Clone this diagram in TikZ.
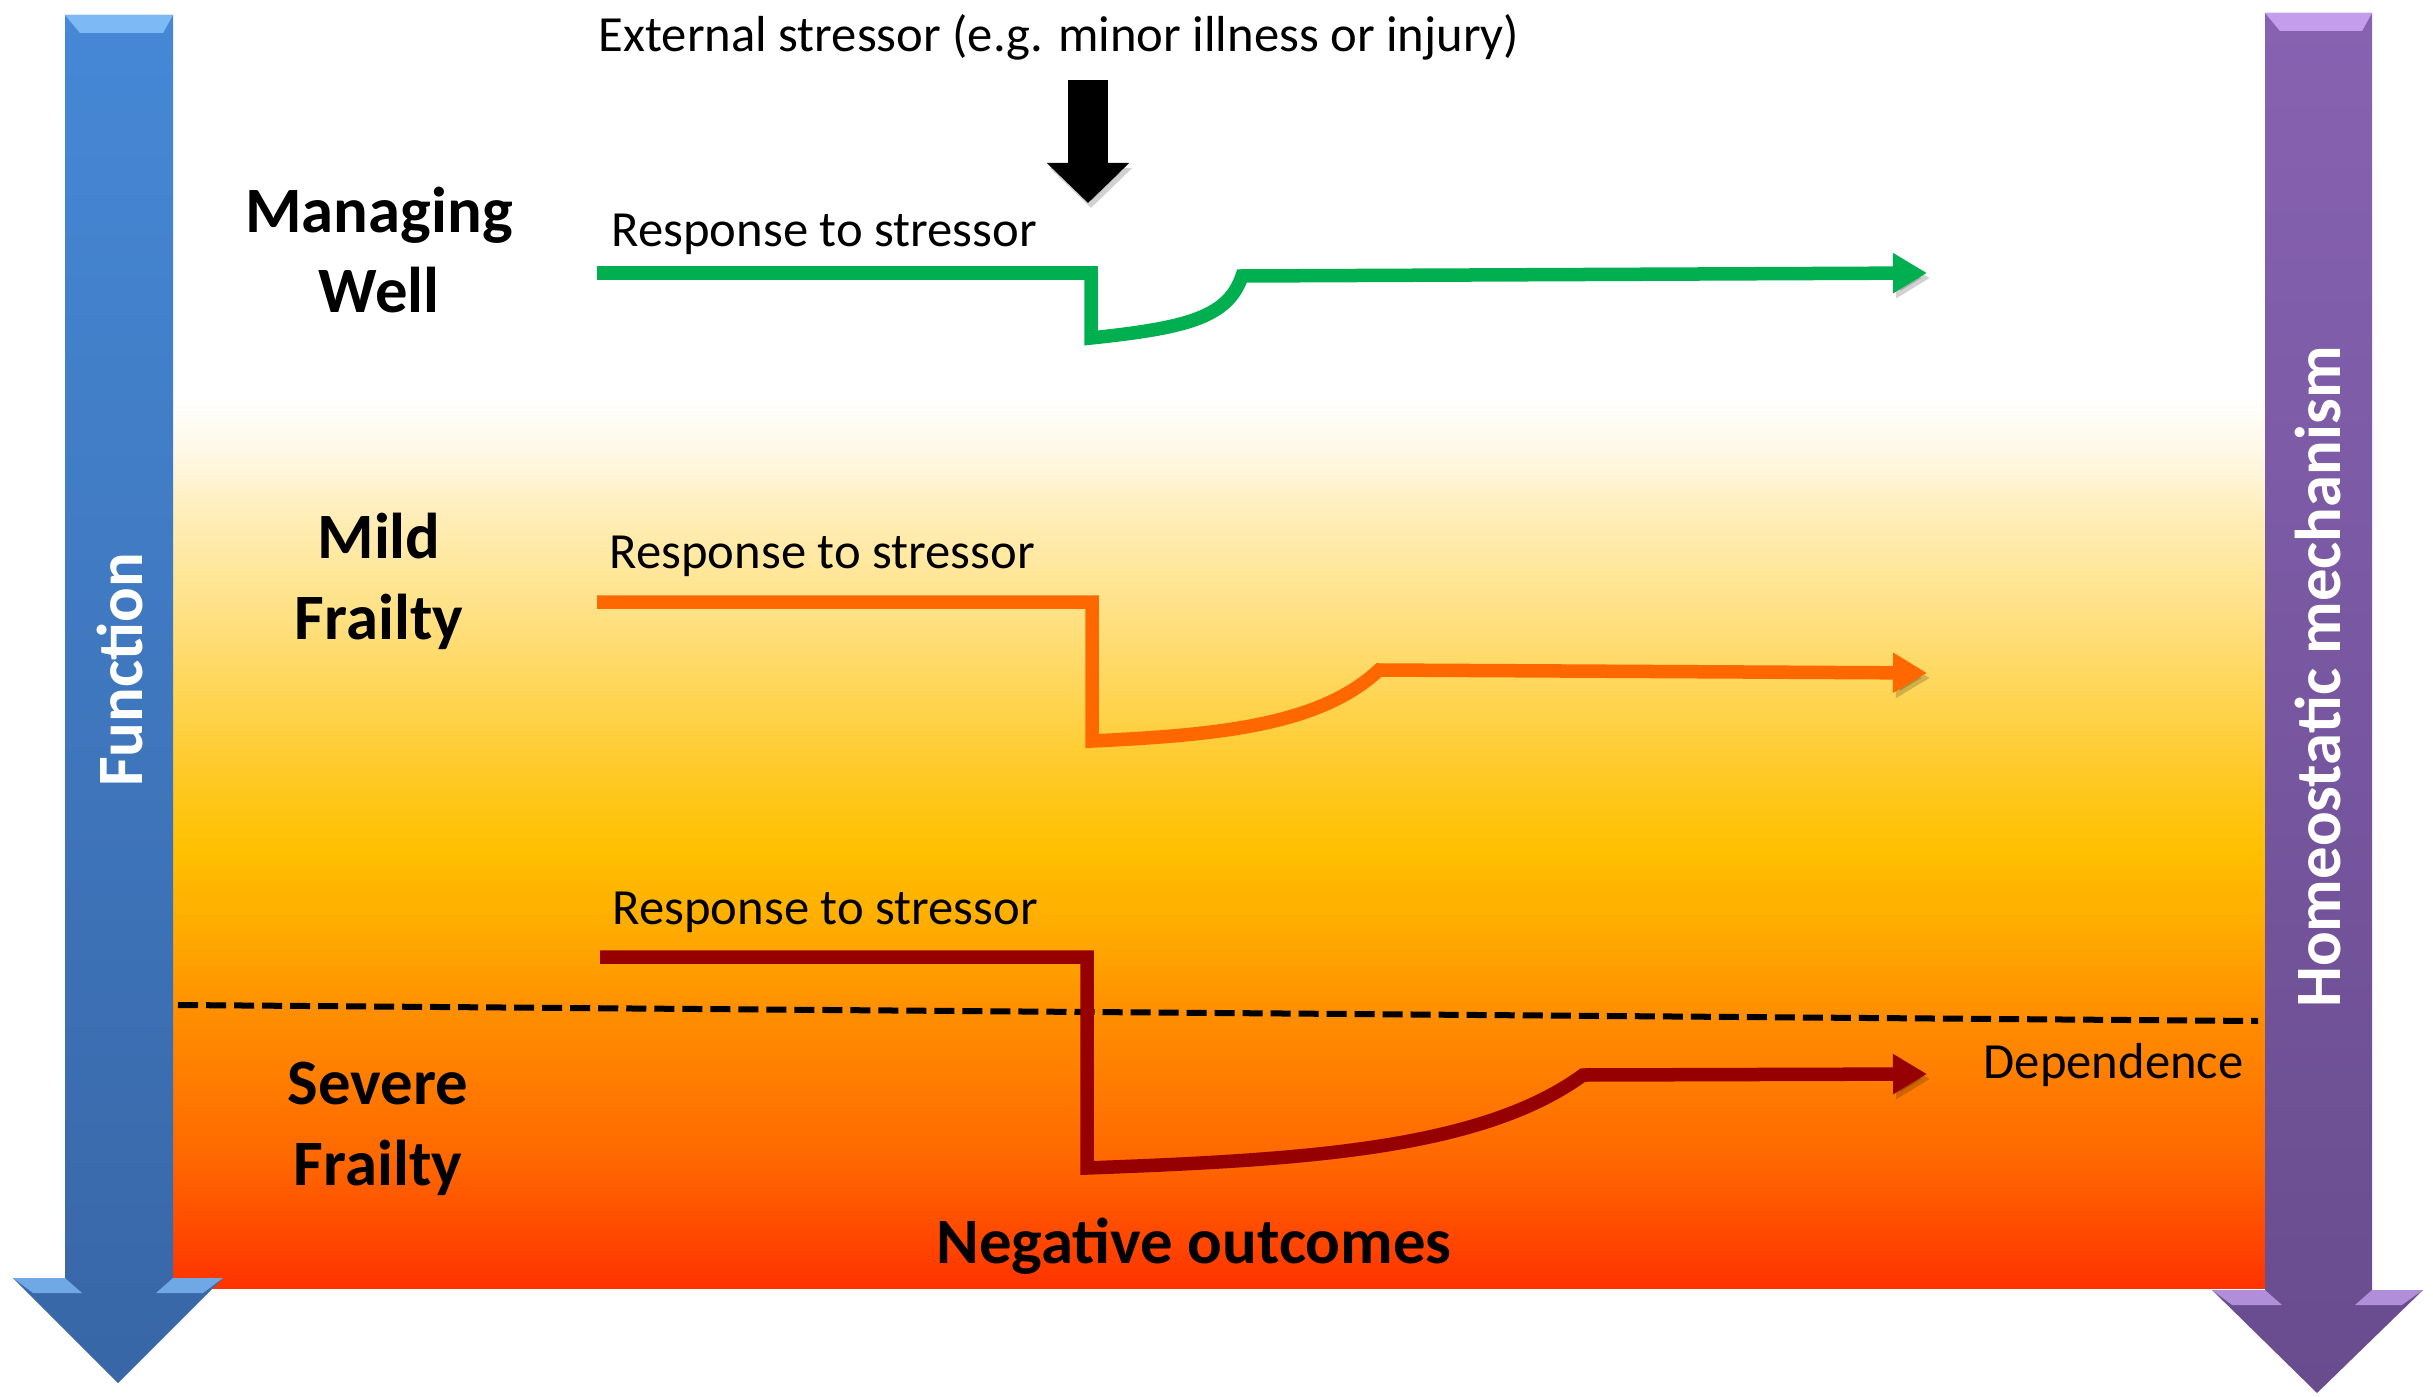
\documentclass[tikz,border=0pt]{standalone}
\usepackage{fontspec}
\setmainfont{Carlito}
\usepackage{tikz}
\usetikzlibrary{arrows.meta}
\definecolor{funcblue}{RGB}{70,136,214}
\definecolor{funcbluedk}{RGB}{56,102,166}
\definecolor{funcbluelt}{RGB}{125,185,245}
\definecolor{homeopurple}{RGB}{135,98,178}
\definecolor{homeopurpledk}{RGB}{104,76,142}
\definecolor{homeopurplelt}{RGB}{196,158,236}
\definecolor{wellgreen}{RGB}{0,176,80}
\definecolor{mildorange}{RGB}{255,104,0}
\definecolor{severered}{RGB}{150,0,0}
\definecolor{bgred}{RGB}{255,51,0}
\definecolor{bgdeep}{RGB}{255,102,0}
\definecolor{bgorange}{RGB}{255,144,0}
\definecolor{bgamber}{RGB}{255,170,0}
\definecolor{bgyellow}{RGB}{255,192,0}
\definecolor{bgsun}{RGB}{255,201,37}
\definecolor{bgpale}{RGB}{255,224,128}
\definecolor{bgcream}{RGB}{255,237,181}
\definecolor{bgivory}{RGB}{255,246,222}
\pgfdeclareverticalshading{frailtyshade}{100bp}{color(0bp)=(bgred); color(25bp)=(bgred);
  color(32bp)=(bgdeep); color(40.75bp)=(bgorange); color(45bp)=(bgamber);
  color(49.65bp)=(bgyellow); color(53.85bp)=(bgsun); color(62.6bp)=(bgpale);
  color(68.25bp)=(bgcream); color(71.35bp)=(bgivory); color(75bp)=(white); color(100bp)=(white)}
\tikzset{
  stagelabel/.style={font=\fontsize{18.4}{22.8}\selectfont\bfseries,align=center,anchor=base,inner sep=0pt},
  resplabel/.style={font=\fontsize{14.4}{17}\selectfont,anchor=base west,inner sep=0pt},
  barlabel/.style={font=\fontsize{18.4}{22}\selectfont\bfseries,text=white,rotate=90,inner sep=0pt},
  softshadow/.style={preaction={draw=black,opacity=0.18,transform canvas={shift={(3,5)}}}},
  respline/.style={line width=0.135cm,-{Triangle[length=0.34cm,width=0.38cm]},softshadow},
  threshline/.style={dash pattern=on 0.2cm off 0.08cm,line width=0.06cm},
  stressarr/.style={line width=0.4cm,-{Triangle[length=0.4cm,width=0.8cm]},softshadow}
}

\begin{document}
\begin{tikzpicture}[x=0.01cm,y=-0.01cm]
  \useasboundingbox (0,0) rectangle (2433,1397);

  %% Background gradient
  \shade[shading=frailtyshade] (171,400) rectangle (2265,1288);

  %% Dependence threshold
  \coordinate (threshL) at (178,1005);
  \coordinate (threshR) at (2258,1021);
  \draw[threshline] (threshL) -- (threshR);

  %% Function bar
  \shade[top color=funcblue,bottom color=funcbluedk]
    (65,15) -- (173,15) -- (173,1278) -- (223,1278) -- (118,1383)
    -- (13,1278) -- (65,1278) -- cycle;
  \fill[funcbluelt] (65,15) -- (173,15) -- (163,33) -- (80,33) -- cycle;
  \fill[funcbluelt!80!funcbluedk] (13,1278) -- (65,1278) -- (82,1293) -- (33,1293) -- cycle;
  \fill[funcbluelt!80!funcbluedk] (173,1278) -- (223,1278) -- (203,1293) -- (156,1293) -- cycle;
  \node[barlabel] (func) at (120,670) {Function};

  %% Homeostatic mechanism bar
  \shade[top color=homeopurple,bottom color=homeopurpledk]
    (2265,13) -- (2372,13) -- (2372,1290) -- (2423,1290) -- (2317,1393)
    -- (2212,1290) -- (2265,1290) -- cycle;
  \fill[homeopurplelt] (2265,13) -- (2372,13) -- (2362,31) -- (2280,31) -- cycle;
  \fill[homeopurplelt!80!homeopurpledk] (2212,1290) -- (2265,1290) -- (2282,1305) -- (2232,1305) -- cycle;
  \fill[homeopurplelt!80!homeopurpledk] (2372,1290) -- (2423,1290) -- (2402,1305) -- (2355,1305) -- cycle;
  \node[barlabel] (homeo) at (2318,677) {Homeostatic mechanism};

  %% Stressor
  \node[resplabel] (stressor) at (598,52) {External stressor (e.g. minor illness or injury)};
  \coordinate (stresstop) at (1088,80);
  \coordinate (stresshit) at (1088,203);
  \draw[stressarr] (stresstop) -- (stresshit);

  %% Stage labels (base = last line)
  \node[stagelabel] (well) at (379,313) {Managing\\Well};
  \node[stagelabel] (mild) at (379,639) {Mild\\Frailty};
  \node[stagelabel] (severe) at (378,1185) {Severe\\Frailty};

  %% Managing well response
  \node[resplabel] (wellresp) at (611,247) {Response to stressor};
  \coordinate (wellstart) at (597,273);
  \coordinate (wellend) at (1927,273);
  \draw[respline,wellgreen] (wellstart) -- (1091,273) -- (1091,338)
    .. controls (1185,328) and (1228,318) .. (1242,276) -- (wellend);

  %% Mild frailty response
  \node[resplabel] (mildresp) at (609,568) {Response to stressor};
  \coordinate (mildstart) at (597,602);
  \coordinate (mildend) at (1927,673);
  \draw[respline,mildorange] (mildstart) -- (1092,602) -- (1092,741)
    .. controls (1220,735) and (1320,725) .. (1379,670) -- (mildend);

  %% Severe frailty response
  \node[resplabel] (severeresp) at (612,924) {Response to stressor};
  \coordinate (severestart) at (600,957);
  \coordinate (severeend) at (1927,1074);
  \draw[respline,severered] (severestart) -- (1087,957) -- (1087,1168)
    .. controls (1300,1160) and (1480,1150) .. (1583,1075) -- (severeend);

  \node[resplabel] (dep) at (1983,1078) {Dependence};
  \node[resplabel,font=\fontsize{18.4}{22}\selectfont\bfseries] (negout) at (936,1263) {Negative outcomes};
\end{tikzpicture}
\end{document}
